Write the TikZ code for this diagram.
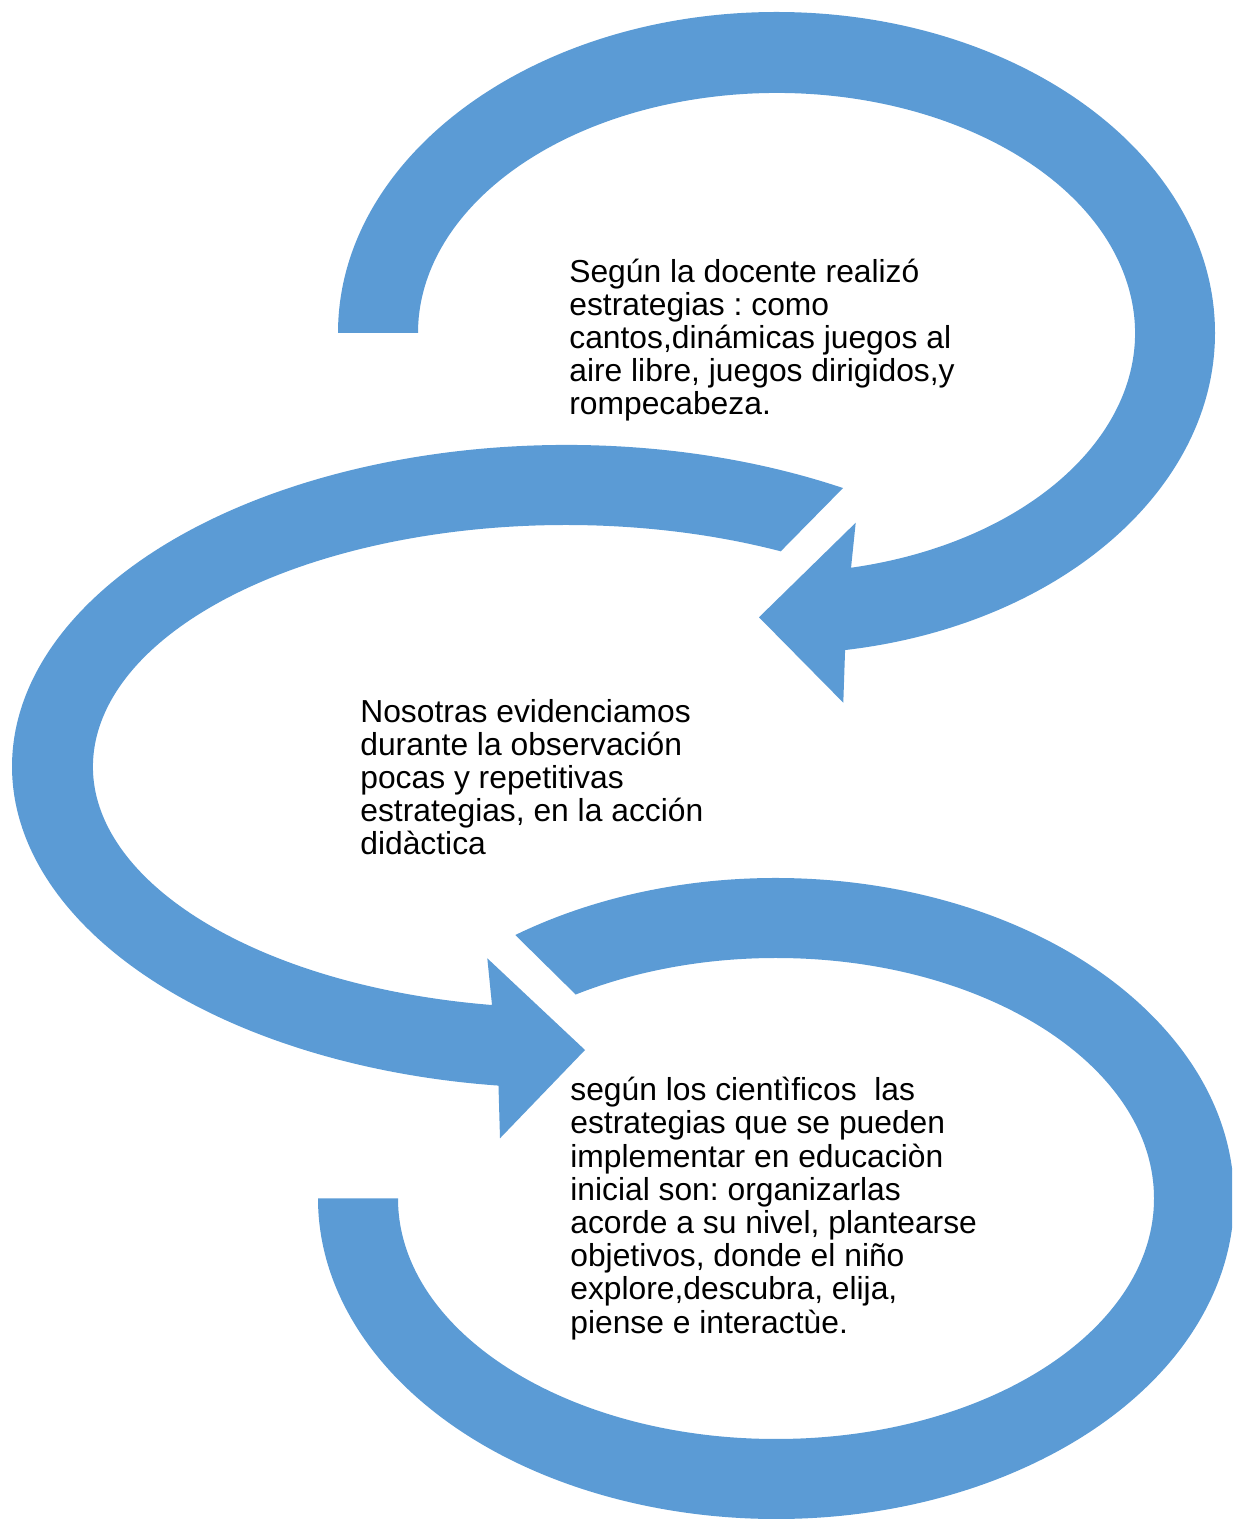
\documentclass[tikz,border=0pt]{standalone}
\usepackage{fontspec}
\setmainfont{Liberation Sans}
\definecolor{arrowblue}{HTML}{5B9BD5}
\frenchspacing
\begin{document}
\begin{tikzpicture}[x=0.02cm, y=0.02cm,
  band/.style={fill=arrowblue},
  txt/.style={anchor=base west, align=left, inner sep=0pt, font=\fontsize{18.1}{18.9}\selectfont}]
\useasboundingbox (0,0) rectangle (1232,1519);
\clip (0,0) rectangle (1232,1519);
\coordinate (ct) at (776.5,1186);
\coordinate (cm) at (566,752.5);
\coordinate (cb) at (776,320.5);

% top arc with arrow
\fill[band] ([shift={(ct)}]180:438.5 and 321)
	arc[start angle=180, end angle=-81, x radius=438.5, y radius=321]
	-- (843.3,816.3) -- (759,901.7) -- (855.7,996.3)
	-- ([shift={(ct)}]-78:358.5 and 240)
	arc[start angle=-78, end angle=180, x radius=358.5, y radius=240] -- cycle;

% middle arc with arrow
\fill[band] ([shift={(cm)}]60:554 and 321.5)
	arc[start angle=60, end angle=263, x radius=554, y radius=321.5]
	-- (500,380.7) -- (585,469) -- (487.3,560.7)
	-- ([shift={(cm)}]261:473 and 241.5)
	arc[start angle=261, end angle=63, x radius=473, y radius=241.5] -- cycle;

% bottom arc
\fill[band] ([shift={(cb)}]124.7:458 and 320.5)
	arc[start angle=124.7, end angle=-180, x radius=458, y radius=320.5]
	-- ([shift={(cb)}]180:378 and 240.5)
	arc[start angle=-180, end angle=122, x radius=378, y radius=240.5] -- cycle;

% texts (base = last line)
\node[txt] (docente) at (569,1104.1) {Según la docente realizó\\estrategias : como\\cantos,dinámicas juegos al\\aire libre, juegos dirigidos,y\\rompecabeza.};
\node[txt] (nosotras) at (360,664.1) {Nosotras evidenciamos\\durante la observación\\pocas y repetitivas\\estrategias, en la acción\\didàctica};
\node[txt] (segun) at (570,185.9) {según los cientìficos\ \ las\\estrategias que se pueden\\implementar en educaciòn\\inicial son: organizarlas\\acorde a su nivel, plantearse\\objetivos, donde el niño\\explore,descubra, elija,\\piense e interactùe.};

\end{tikzpicture}
\end{document}
